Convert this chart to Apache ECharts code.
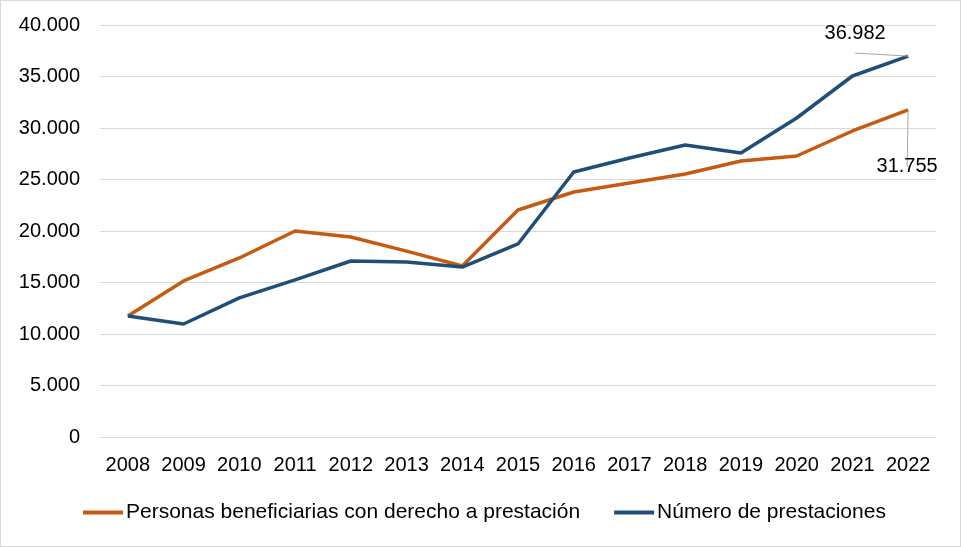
<!DOCTYPE html>
<html>
<head>
<meta charset="utf-8">
<script src="https://cdn.jsdelivr.net/npm/echarts@6/dist/echarts.min.js"></script>
<style>
html,body{margin:0;padding:0;background:#fff;}
#c{width:961px;height:547px;box-sizing:border-box;border:1px solid #d9d9d9;}
</style>
</head>
<body>
<div id="c"></div>
<script>
const years = ['2008','2009','2010','2011','2012','2013','2014','2015','2016','2017','2018','2019','2020','2021','2022'];
const beneficiarias = [11750,15150,17380,20000,19420,18050,16600,22040,23790,24660,25530,26800,27280,29710,31755];
const prestaciones = [11750,10970,13500,15250,17090,16990,16500,18740,25730,27090,28350,27570,30970,35050,36982];
const yTicks = {min:0, max:40000, interval:5000};

const FONT = 'Liberation Sans';
const fmt = v => String(v).replace(/\B(?=(\d{3})+(?!\d))/g, '.');

// label only the last point of each series
function withEndLabel(values, labelOpts) {
  return values.map((v, i) => i === values.length - 1
    ? {value: v, label: Object.assign({show: true, formatter: p => fmt(p.value)}, labelOpts),
       labelLine: {show: true, lineStyle: {color: '#a6a6a6', width: 1}}}
    : v);
}

const chart = echarts.init(document.getElementById('c'), null, {renderer:'canvas'});
chart.setOption({
  animation:false,
  textStyle:{fontFamily:FONT},
  grid:{left:99, right:24, top:24, bottom:109},
  legend:{
    bottom:18, left:77, itemGap:34, itemWidth:40, itemHeight:4,
    icon:'rect',
    textStyle:{fontFamily:FONT, fontSize:21, color:'#000', padding:[0,0,0,-2]},
    data:['Personas beneficiarias con derecho a prestación','Número de prestaciones']
  },
  xAxis:{
    type:'category', data:years, boundaryGap:true,
    axisLine:{show:false}, axisTick:{show:false},
    axisLabel:{color:'#000', fontSize:20, fontFamily:FONT, margin:18, interval:0, hideOverlap:false}
  },
  yAxis:{
    type:'value', min:yTicks.min, max:yTicks.max, interval:yTicks.interval,
    axisLine:{show:false}, axisTick:{show:false},
    splitLine:{lineStyle:{color:'#d9d9d9', width:1}},
    axisLabel:{color:'#000', fontSize:20, fontFamily:FONT, margin:20, formatter:fmt}
  },
  series:[
    {
      name:'Personas beneficiarias con derecho a prestación', type:'line',
      data:withEndLabel(beneficiarias, {position:'bottom', offset:[-1,42], color:'#000', fontSize:20, fontFamily:FONT}),
      symbol:'circle', symbolSize:0, showSymbol:true, showAllSymbol:true,
      color:'#C55A11', lineStyle:{width:3.5, color:'#C55A11'}, z:2,
      label:{show:false}, labelLine:{show:false}
    },
    {
      name:'Número de prestaciones', type:'line',
      data:withEndLabel(prestaciones, {position:'top', offset:[-53,-8], color:'#000', fontSize:20, fontFamily:FONT}),
      symbol:'circle', symbolSize:0, showSymbol:true, showAllSymbol:true,
      color:'#1F4E79', lineStyle:{width:3.5, color:'#1F4E79'}, z:3,
      label:{show:false}, labelLine:{show:false}
    }
  ]
});
</script>
</body>
</html>
